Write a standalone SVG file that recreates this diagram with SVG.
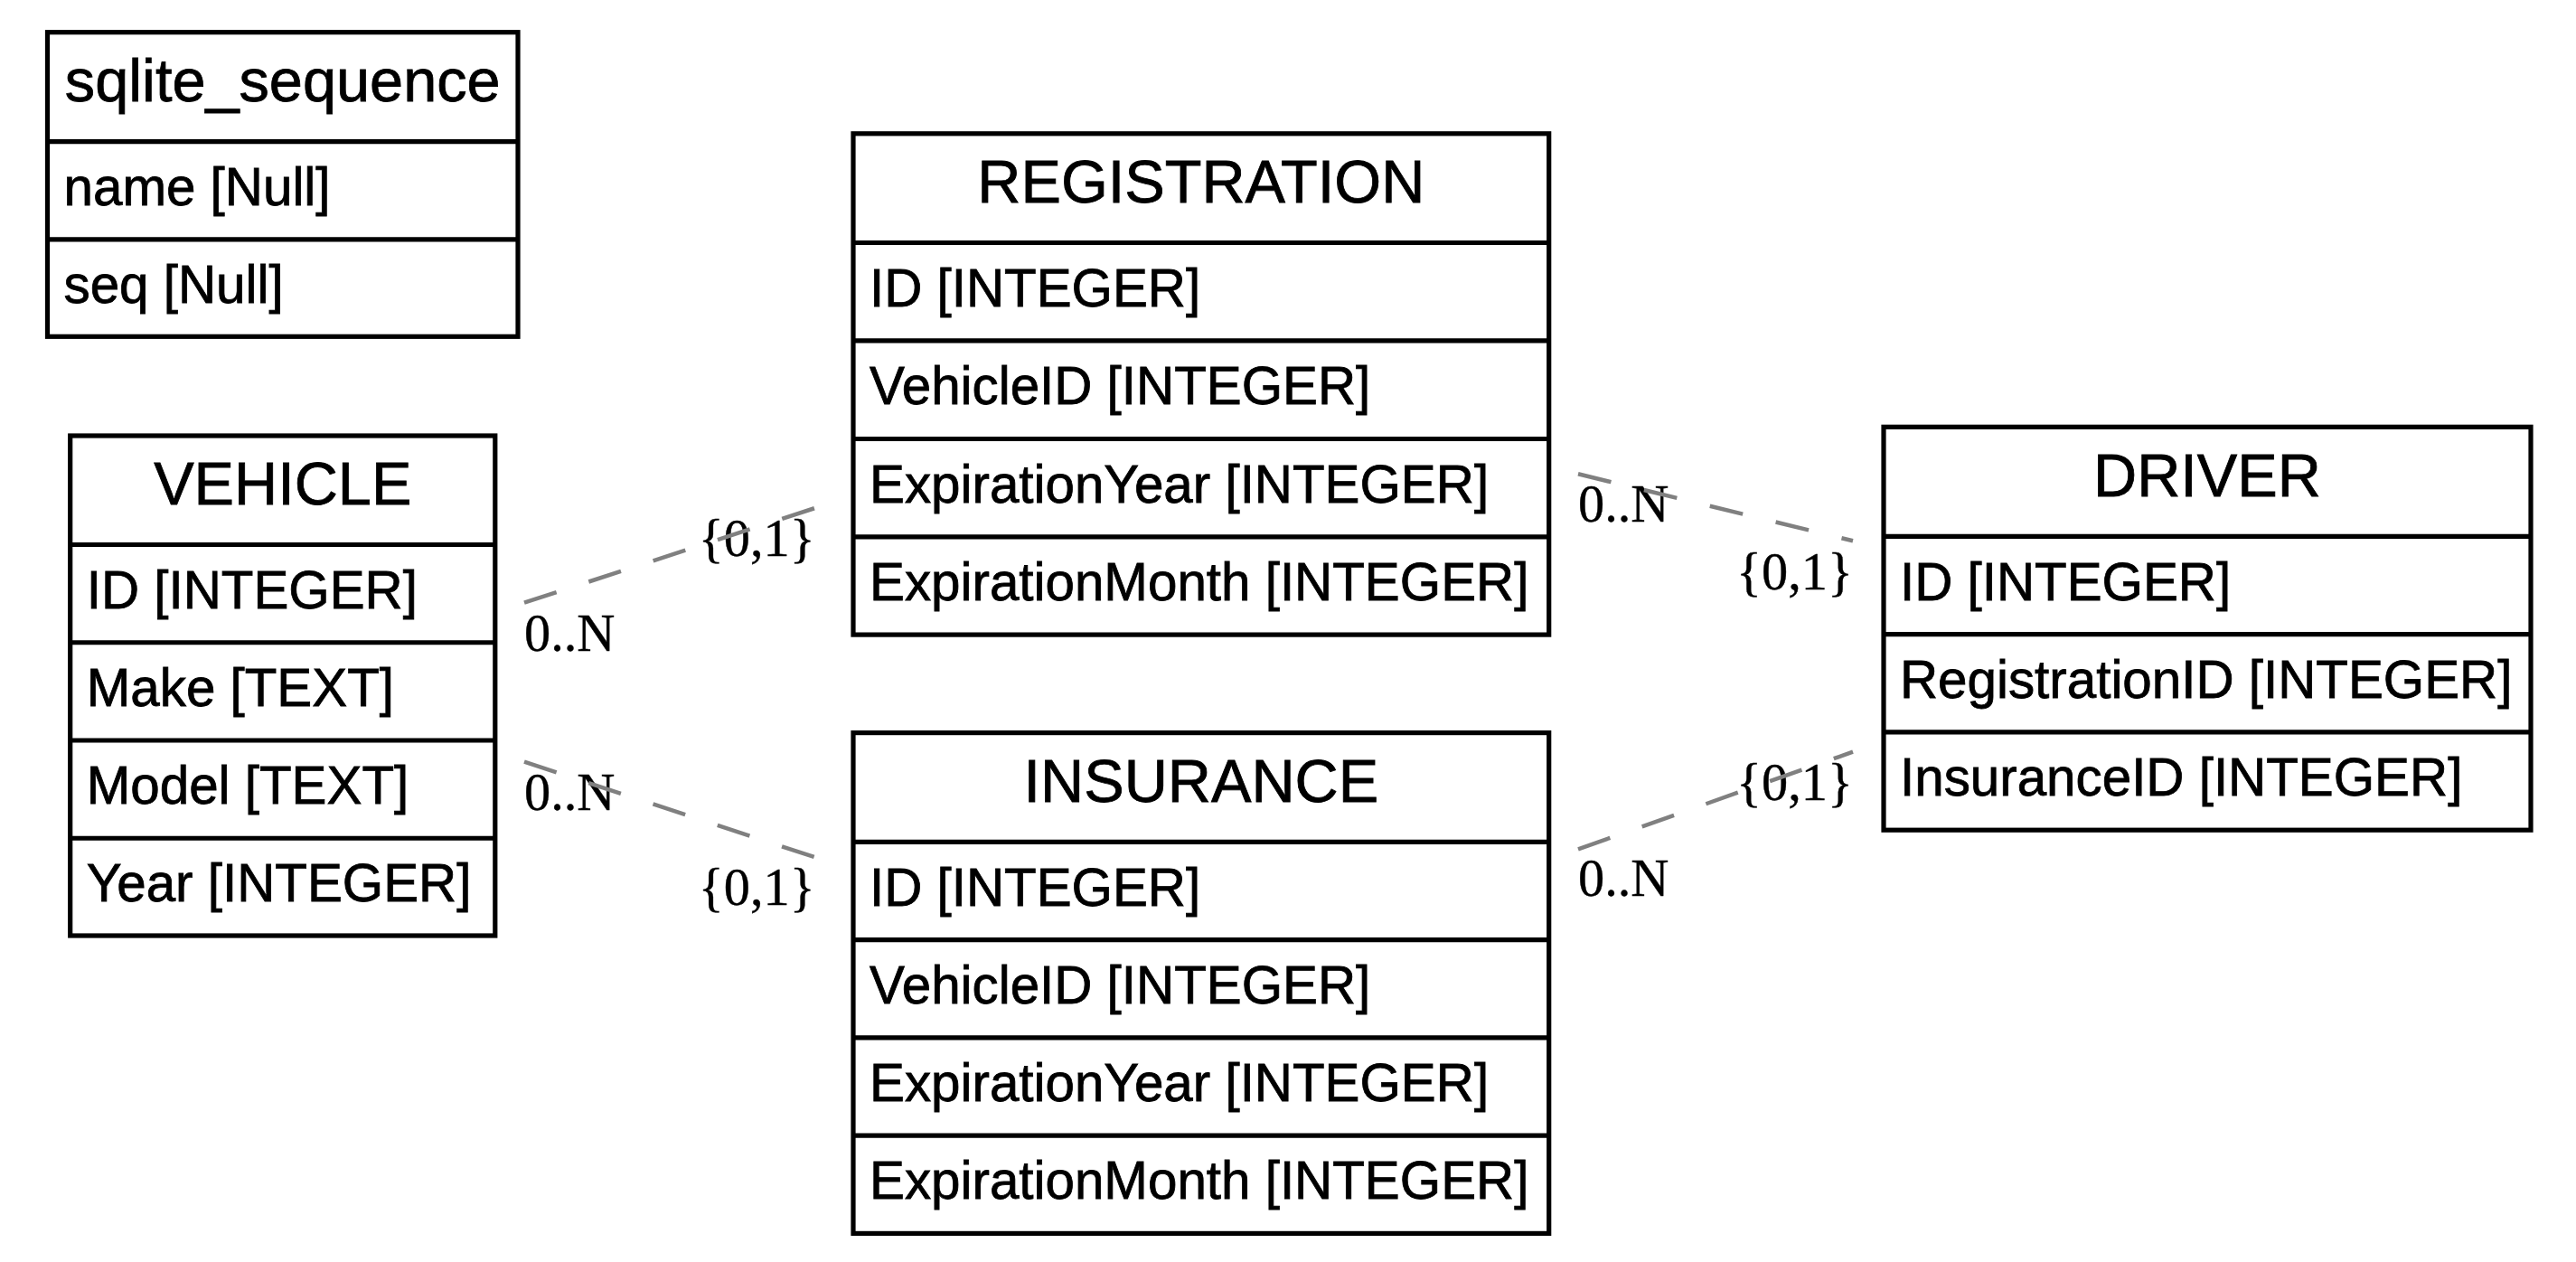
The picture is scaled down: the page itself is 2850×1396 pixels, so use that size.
<svg xmlns="http://www.w3.org/2000/svg" width="2850" height="1396" viewBox="0 0 2850 1396">
<style>
.bg{fill:#fff}
.box{fill:#fff;stroke:#000;stroke-width:5.2}
.dv{stroke:#000;stroke-width:5.2}
.h{font-family:"Liberation Sans",Arial,sans-serif;font-size:66.67px;text-anchor:middle;fill:#000;stroke:#000;stroke-width:0.8}
.f{font-family:"Liberation Sans",Arial,sans-serif;font-size:58.33px;fill:#000;stroke:#000;stroke-width:0.8}
.l{font-family:"Liberation Serif","Times New Roman",serif;font-size:58.33px;fill:#000;stroke:#000;stroke-width:0.4}
.e{stroke:#808080;stroke-width:4.5;stroke-dasharray:37.5 37.5;fill:none}
</style>
<rect class="bg" x="0" y="0" width="2850" height="1396"/>

<g id="sqlite_sequence">
<rect class="box" x="52.5" y="35.7" width="520.5" height="336.6"/>
<line class="dv" x1="52.5" y1="156.7" x2="573" y2="156.7"/>
<line class="dv" x1="52.5" y1="264.8" x2="573" y2="264.8"/>
<text class="h" x="312.75" y="112.2">sqlite_sequence</text>
<text class="f" x="70.5" y="226.8">name [Null]</text>
<text class="f" x="70.5" y="334.5">seq [Null]</text>
</g>

<g id="VEHICLE">
<rect class="box" x="77.7" y="482" width="470.1" height="553"/>
<line class="dv" x1="77.7" y1="602.5" x2="547.8" y2="602.5"/>
<line class="dv" x1="77.7" y1="710.75" x2="547.8" y2="710.75"/>
<line class="dv" x1="77.7" y1="819" x2="547.8" y2="819"/>
<line class="dv" x1="77.7" y1="927.25" x2="547.8" y2="927.25"/>
<text class="h" x="312.75" y="558.3">VEHICLE</text>
<text class="f" x="95.7" y="672.6">ID [INTEGER]</text>
<text class="f" x="95.7" y="780.9">Make [TEXT]</text>
<text class="f" x="95.7" y="889.1">Model [TEXT]</text>
<text class="f" x="95.7" y="997.4">Year [INTEGER]</text>
</g>

<g id="REGISTRATION">
<rect class="box" x="944" y="147.8" width="769.7" height="554.3"/>
<line class="dv" x1="944" y1="268.5" x2="1713.7" y2="268.5"/>
<line class="dv" x1="944" y1="376.9" x2="1713.7" y2="376.9"/>
<line class="dv" x1="944" y1="485.5" x2="1713.7" y2="485.5"/>
<line class="dv" x1="944" y1="593.8" x2="1713.7" y2="593.8"/>
<text class="h" x="1328.85" y="224.2">REGISTRATION</text>
<text class="f" x="962" y="338.7">ID [INTEGER]</text>
<text class="f" x="962" y="447.2">VehicleID [INTEGER]</text>
<text class="f" x="962" y="555.7">ExpirationYear [INTEGER]</text>
<text class="f" x="962" y="664">ExpirationMonth [INTEGER]</text>
</g>

<g id="INSURANCE">
<rect class="box" x="944" y="810.6" width="769.7" height="553.8"/>
<line class="dv" x1="944" y1="931.4" x2="1713.7" y2="931.4"/>
<line class="dv" x1="944" y1="1039.6" x2="1713.7" y2="1039.6"/>
<line class="dv" x1="944" y1="1147.8" x2="1713.7" y2="1147.8"/>
<line class="dv" x1="944" y1="1256.1" x2="1713.7" y2="1256.1"/>
<text class="h" x="1328.85" y="887">INSURANCE</text>
<text class="f" x="962" y="1001.5">ID [INTEGER]</text>
<text class="f" x="962" y="1109.7">VehicleID [INTEGER]</text>
<text class="f" x="962" y="1218">ExpirationYear [INTEGER]</text>
<text class="f" x="962" y="1326.3">ExpirationMonth [INTEGER]</text>
</g>

<g id="DRIVER">
<rect class="box" x="2084" y="472.3" width="716" height="445.9"/>
<line class="dv" x1="2084" y1="593.3" x2="2800" y2="593.3"/>
<line class="dv" x1="2084" y1="701.6" x2="2800" y2="701.6"/>
<line class="dv" x1="2084" y1="809.9" x2="2800" y2="809.9"/>
<text class="h" x="2442" y="548.8">DRIVER</text>
<text class="f" x="2102" y="663.5">ID [INTEGER]</text>
<text class="f" x="2102" y="771.8">RegistrationID [INTEGER]</text>
<text class="f" x="2102" y="880.1">InsuranceID [INTEGER]</text>
</g>

<g id="connectors">
<g id="labels">
<text class="l" x="580" y="720">0..N</text>
<text class="l" x="901.7" y="615" text-anchor="end">{0,1}</text>
<text class="l" x="580" y="896">0..N</text>
<text class="l" x="901.7" y="1001" text-anchor="end">{0,1}</text>
<text class="l" x="1746" y="577">0..N</text>
<text class="l" x="2050" y="651.5" text-anchor="end">{0,1}</text>
<text class="l" x="1746" y="991">0..N</text>
<text class="l" x="2050" y="884.5" text-anchor="end">{0,1}</text>
</g>
<path id="e_vehicle_registration" class="e" d="M580,666.7 L901.7,562"/>
<path id="e_vehicle_insurance" class="e" d="M580,842.7 L901.7,948.3"/>
<path id="e_registration_driver" class="e" d="M1746,524.3 L2050,598.3"/>
<path id="e_insurance_driver" class="e" d="M1746,939.3 L2050,831.7"/>
</g>
</svg>
